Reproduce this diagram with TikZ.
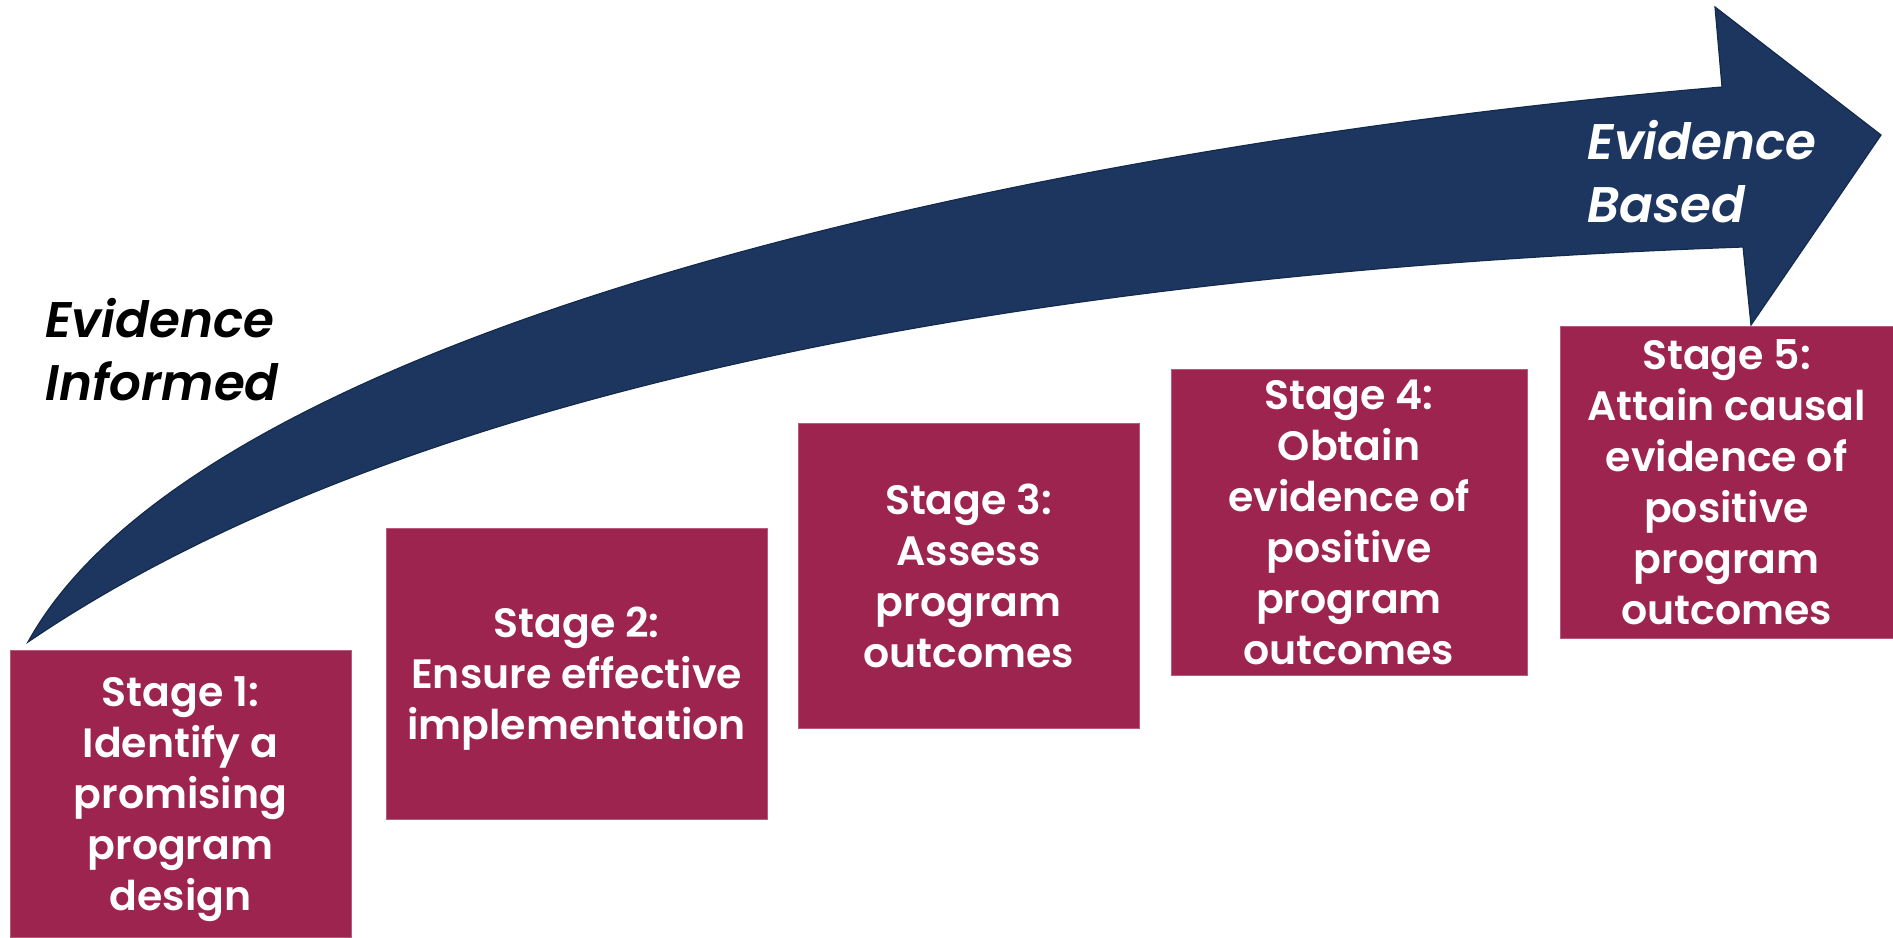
\documentclass[tikz,border=0pt]{standalone}
\usepackage{fontspec}
\setmainfont{Poppins}[BoldFont={Poppins SemiBold}, BoldItalicFont={Poppins SemiBold Italic}]
\usepackage{tikz}
\usepackage{xcolor}
\usetikzlibrary{positioning}
\definecolor{navyarrow}{HTML}{1C365F}
\definecolor{navyedge}{HTML}{142A4C}
\definecolor{maroon}{HTML}{9E2450}
\definecolor{maroonedge}{HTML}{B85A7C}

\tikzset{
  stagebox/.style={fill=maroon, draw=maroonedge, line width=0.5pt, text=white,
    align=center, inner sep=0pt, text depth=0pt,
    font=\bfseries\fontsize{20.5}{25.5}\selectfont},
  evlabel/.style={align=left, inner sep=0pt, anchor=base west,
    font=\bfseries\itshape\fontsize{25}{31.5}\selectfont}
}

\begin{document}
\begin{tikzpicture}[x=0.5pt, y=-0.5pt]
  \useasboundingbox (0,0) rectangle (1893,937);
  % curved arrow
  \filldraw[fill=navyarrow, draw=navyedge, line width=0.6pt, line join=miter]
    (28,642) .. controls (200,330) and (1022,147) .. (1722,87)
    -- (1715,7) -- (1881,135) -- (1751,325) -- (1743,247)
    .. controls (1100,270) and (428,370) .. (28,642) -- cycle;
  % stages
  \foreach \n/\cx/\cy/\w/\h/\txt in {
    1/180.5/793.5/170.5/143.5/{Stage 1:\\Identify a\\promising\\program\\design},
    2/576.5/673.5/190.5/145.5/{Stage 2:\\Ensure effective\\implementation},
    3/968.5/575.5/170.5/152.5/{Stage 3:\\Assess\\program\\outcomes},
    4/1349/522/178/153/{Stage 4:\\Obtain\\evidence of\\positive\\program\\outcomes},
    5/1726.5/482/166.5/156/{Stage 5:\\Attain causal\\evidence of\\positive\\program\\outcomes}} {
    \node[stagebox, minimum width=\w pt, minimum height=\h pt] (s\n) at (\cx,\cy) {\txt};
  }
  \node[evlabel] (informed) at (45,400) {Evidence\\Informed};
  \node[evlabel, text=white] (based) at (1587,222) {Evidence\\Based};
\end{tikzpicture}
\end{document}
